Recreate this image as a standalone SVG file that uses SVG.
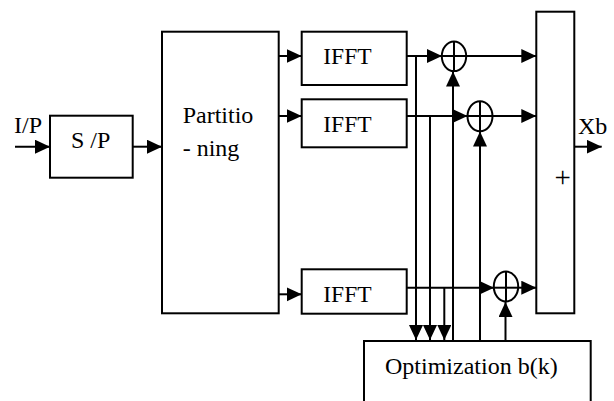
<svg xmlns="http://www.w3.org/2000/svg" width="614" height="401" viewBox="0 0 614 401">
<style>
.box{fill:#fff;stroke:#000;stroke-width:2}
.ln{fill:none;stroke:#000;stroke-width:2}
.arr{fill:none;stroke:#000;stroke-width:2;marker-end:url(#ah)}
text{font-family:'Liberation Serif','DejaVu Serif',serif;font-size:24px;fill:#000}
</style>
<defs>
<marker id="ah" markerUnits="userSpaceOnUse" markerWidth="16" markerHeight="15" refX="15" refY="7" orient="auto">
<path d="M0,0 L15,7 L0,14 z" fill="#000"/>
</marker>
</defs>
<g id="connectors">
<line class="arr" x1="15" y1="146.7" x2="50" y2="146.7"/>
<line class="arr" x1="132.7" y1="146.7" x2="162" y2="146.7"/>
<line class="arr" x1="278.7" y1="56" x2="301.7" y2="56"/>
<line class="arr" x1="278.7" y1="116" x2="301.7" y2="116"/>
<line class="arr" x1="278.7" y1="294.3" x2="301.7" y2="294.3"/>
<line class="arr" x1="406.7" y1="56" x2="442" y2="56"/>
<line class="arr" x1="466" y1="56" x2="536.3" y2="56"/>
<line class="arr" x1="406.7" y1="116" x2="467.5" y2="116"/>
<line class="arr" x1="492.5" y1="116" x2="536.3" y2="116"/>
<line class="arr" x1="406.7" y1="287.7" x2="494" y2="287.7"/>
<line class="arr" x1="518" y1="287.7" x2="536.3" y2="287.7"/>
<line class="arr" x1="574.3" y1="146.7" x2="601.7" y2="146.7"/>
<line class="arr" x1="416" y1="56" x2="416" y2="340"/>
<line class="arr" x1="430" y1="116" x2="430" y2="340"/>
<line class="arr" x1="444.3" y1="287.7" x2="444.3" y2="340"/>
<line class="arr" x1="453" y1="341" x2="453" y2="71.5"/>
<line class="arr" x1="480" y1="341" x2="480" y2="131.5"/>
<line class="arr" x1="505.5" y1="341" x2="505.5" y2="302"/>
</g>
<g id="sp"><rect class="box" x="50" y="115.7" width="82.7" height="62"/><text x="71" y="148.3">S /P</text></g>
<text id="ip" x="14" y="133.3">I/P</text>
<g id="partitioning"><rect class="box" x="162" y="31.7" width="116.7" height="281.6"/><text x="182.7" y="122.7">Partitio</text><text x="182.7" y="155.7">- ning</text></g>
<g id="ifft1"><rect class="box" x="301.7" y="31.7" width="105" height="53.3"/><text x="323.3" y="64" style="font-size:23.5px">IFFT</text></g>
<g id="ifft2"><rect class="box" x="301.7" y="99.3" width="105" height="48"/><text x="323.3" y="131.7" style="font-size:23.5px">IFFT</text></g>
<g id="ifft3"><rect class="box" x="301.7" y="269.3" width="105" height="44.4"/><text x="323.3" y="302.3" style="font-size:23.5px">IFFT</text></g>
<g id="add1"><ellipse class="box" cx="454" cy="56.3" rx="12.2" ry="14.8"/><line class="ln" x1="441.8" y1="56" x2="466.2" y2="56"/><line class="ln" x1="454" y1="41.5" x2="454" y2="71.1"/></g>
<g id="add2"><ellipse class="box" cx="480" cy="116.3" rx="12.5" ry="15"/><line class="ln" x1="467.5" y1="116" x2="492.5" y2="116"/><line class="ln" x1="480" y1="101.3" x2="480" y2="131.3"/></g>
<g id="add3"><ellipse class="box" cx="506" cy="286.5" rx="12.2" ry="15"/><line class="ln" x1="493.8" y1="287.7" x2="518.2" y2="287.7"/><line class="ln" x1="506" y1="271.5" x2="506" y2="301.5"/></g>
<g id="sum"><rect class="box" x="536.3" y="11.7" width="38" height="301.6"/><text x="562.7" y="187" text-anchor="middle" style="font-size:29px">+</text></g>
<text id="xb" x="578" y="134">Xb</text>
<g id="optimization"><rect class="box" x="364" y="341" width="226.7" height="80"/><text x="385" y="374">Optimization b(k)</text></g>
</svg>
